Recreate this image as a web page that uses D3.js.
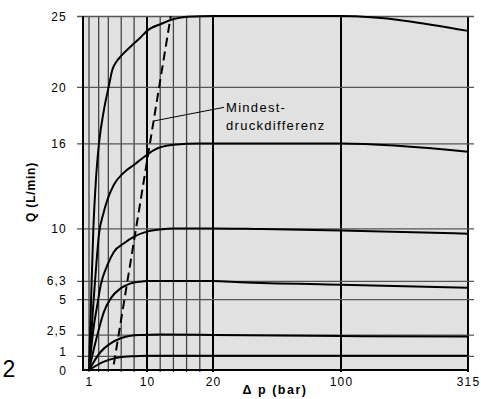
<!DOCTYPE html>
<html>
<head>
<meta charset="utf-8">
<script src="https://cdn.jsdelivr.net/npm/d3@7"></script>
<style>
  body { margin: 0; background: #fff; }
  svg { font-family: "Liberation Sans", Arial, sans-serif; }
</style>
</head>
<body>
<div id="chart"></div>
<script>
// pressure difference (bar) and flow (L/min)
var pressureTicks = [1, 10, 20, 100, 315];
var pressureGrid = [1, 2.5, 4, 6, 8, 10, 12, 14, 16, 18, 20, 100, 315];
var pressureBold = [10, 20, 100, 315];
var flowTicks = [0, 1, 2.5, 5, 6.3, 10, 16, 20, 25];
var flowTickLabels = ["0", "1", "2,5", "5", "6,3", "10", "16", "20", "25"];

// characteristic curves, [dp, Q]
var curve25 = [[1,0],[1.3,4.6],[1.67,9.9],[2.1,13.6],[2.55,16],[3.33,18.4],[4.1,20.1],[4.62,21.2],[5.3,21.8],[5.92,22.15],[7.47,22.85],[9.03,23.5],[10,23.95],[12.2,24.45],[14.2,24.8],[16,24.95],[20,25],[100,25],[315,23.95]];
var curve16 = [[1,0],[1.6,4.2],[2.04,6.9],[2.55,9.6],[3.2,11.0],[3.84,12.0],[4.88,13.1],[6.43,13.95],[8,14.5],[10,15.2],[11.1,15.55],[14,15.9],[18,16],[100,16],[315,15.42]];
var curve10 = [[1,0],[1.78,3.2],[2.29,4.6],[2.82,6.0],[3.85,7.4],[4.88,8.35],[6.43,8.95],[8,9.42],[10,9.77],[12,9.93],[14,10],[20,10],[50,9.95],[100,9.85],[315,9.63]];
var curve6_3 = [[1,0],[2.29,2.47],[3.33,4.12],[4.37,5.06],[5.92,5.77],[7.47,6.12],[9.03,6.24],[10,6.28],[20,6.28],[37,6.2],[100,6.02],[315,5.81]];
var curve2_5 = [[1,0],[2.82,1.29],[4.37,1.88],[5.92,2.24],[7.47,2.42],[9.03,2.47],[12,2.5],[20,2.48],[100,2.4],[315,2.36]];
var curve1 = [[1,0],[3.33,0.59],[4.88,0.82],[6.43,0.93],[8,0.97],[10,1],[315,1]];
var minDiff = [[4.85,0.4],[13.6,25]];

var W = 481, H = 399;

var svg = d3.select("#chart").append("svg")
  .attr("width", W)
  .attr("height", H);

// x is stretched piecewise like the printed sheet
var x = d3.scaleLinear()
  .domain([0, 1, 10, 20, 100, 315])
  .range([83, 89, 147, 213, 341, 468]);

var y = d3.scaleLinear()
  .domain([0, 25])
  .range([370, 16]);

// plot background
svg.append("rect")
  .attr("x", x(0))
  .attr("y", y(25))
  .attr("width", x(315) - x(0))
  .attr("height", y(0) - y(25))
  .attr("fill", "#e1e1e1");

// vertical grid
svg.append("g").selectAll("line")
  .data(pressureGrid)
  .enter().append("line")
  .attr("x1", function(d) { return x(d); })
  .attr("x2", function(d) { return x(d); })
  .attr("y1", y(25))
  .attr("y2", y(0) + 2)
  .attr("stroke", function(d) { return pressureBold.indexOf(d) >= 0 ? "#000" : "#444"; })
  .attr("stroke-width", function(d) { return pressureBold.indexOf(d) >= 0 ? 2 : 1.3; });

// y axis with horizontal grid lines
var yAxis = svg.append("g")
  .attr("transform", "translate(77,0)")
  .call(d3.axisLeft(y)
    .tickValues(flowTicks)
    .tickFormat(function(d, i) { return flowTickLabels[i]; })
    .tickSize(-(474 - 77))
    .tickPadding(10));

yAxis.select(".domain").remove();
yAxis.selectAll(".tick line")
  .attr("stroke", "#555")
  .attr("stroke-width", 1.3)
  .attr("opacity", function(d) { return d === 0 ? 0 : 1; });
yAxis.selectAll(".tick text")
  .attr("fill", "#000")
  .attr("font-size", 12)
  .attr("letter-spacing", 1.2)
  .attr("dy", function(d) { return (d === 1 || d === 2.5) ? "-0.05em" : "0.35em"; });

// left and bottom axis lines
svg.append("line")
  .attr("x1", x(0)).attr("x2", x(0))
  .attr("y1", y(25)).attr("y2", y(0) + 1)
  .attr("stroke", "#000").attr("stroke-width", 2);

var xAxis = svg.append("g")
  .attr("transform", "translate(0," + y(0) + ")")
  .call(d3.axisBottom(x)
    .tickValues(pressureTicks)
    .tickFormat(d3.format("d"))
    .tickSize(0)
    .tickPadding(7));

xAxis.select(".domain")
  .attr("d", "M" + x(0) + ",0H" + x(315))
  .attr("stroke", "#000")
  .attr("stroke-width", 2);
xAxis.selectAll(".tick text")
  .attr("fill", "#000")
  .attr("font-size", 12)
  .attr("letter-spacing", 1.2);

// curves
var line = d3.line()
  .x(function(d) { return x(d[0]); })
  .y(function(d) { return y(d[1]); })
  .curve(d3.curveMonotoneX);

var curves = [curve1, curve2_5, curve6_3, curve10, curve16, curve25];

svg.append("g").selectAll("path")
  .data(curves)
  .enter().append("path")
  .attr("d", line)
  .attr("fill", "none")
  .attr("stroke", "#000")
  .attr("stroke-width", 2);

// minimum pressure difference
svg.append("path")
  .datum(minDiff)
  .attr("d", d3.line()
    .x(function(d) { return x(d[0]); })
    .y(function(d) { return y(d[1]); }))
  .attr("fill", "none")
  .attr("stroke", "#000")
  .attr("stroke-width", 2)
  .attr("stroke-dasharray", "9,5");

// leader and label
svg.append("line")
  .attr("x1", x(10.97)).attr("y1", y(17.58))
  .attr("x2", x(26.9)).attr("y2", y(18.55))
  .attr("stroke", "#000")
  .attr("stroke-width", 1);

var note = svg.append("text")
  .attr("x", 226)
  .attr("y", 112)
  .attr("font-size", 13)
  .attr("letter-spacing", 1.3)
  .attr("fill", "#000");
note.append("tspan").attr("x", 226).text("Mindest-");
note.append("tspan").attr("x", 226).attr("dy", 18).text("druckdifferenz");

// axis titles
svg.append("text")
  .attr("x", 275)
  .attr("y", 394)
  .attr("text-anchor", "middle")
  .attr("font-size", 12.5)
  .attr("font-weight", "bold")
  .attr("letter-spacing", 1.5)
  .text("Δ p (bar)");

svg.append("text")
  .attr("transform", "translate(35,192) rotate(-90)")
  .attr("text-anchor", "middle")
  .attr("font-size", 12)
  .attr("font-weight", "bold")
  .attr("letter-spacing", 0.8)
  .text("Q (L/min)");

svg.append("text")
  .attr("x", 9)
  .attr("y", 377)
  .attr("text-anchor", "middle")
  .attr("font-size", 23)
  .text("2");
</script>
</body>
</html>
